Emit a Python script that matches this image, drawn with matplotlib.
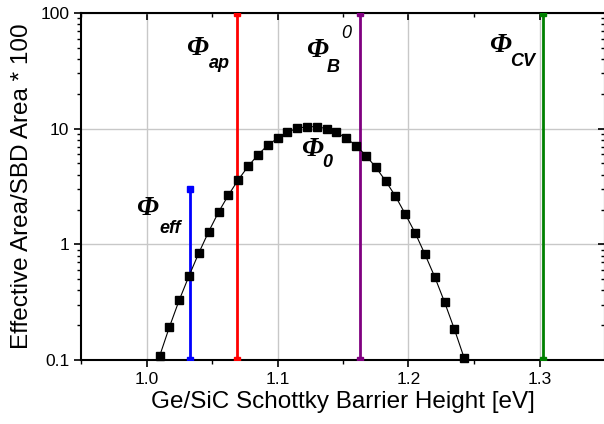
import matplotlib
matplotlib.use("Agg")
import matplotlib.pyplot as plt
from matplotlib.ticker import LogLocator, FixedLocator, NullFormatter, FuncFormatter

plt.rcParams['font.family'] = ['Liberation Sans', 'DejaVu Sans']

# Data
barrier_ev = [1.0100, 1.0175, 1.0250, 1.0325, 1.0400, 1.0475, 1.0550, 1.0625,
              1.0700, 1.0775, 1.0850, 1.0925, 1.1000, 1.1075, 1.1150, 1.1225,
              1.1300, 1.1375, 1.1450, 1.1525, 1.1600, 1.1675, 1.1750, 1.1825,
              1.1900, 1.1975, 1.2050, 1.2125, 1.2200, 1.2275, 1.2350, 1.2425]
eff_area = [0.108, 0.193, 0.330, 0.535, 0.845, 1.29, 1.90, 2.66,
            3.61, 4.71, 5.93, 7.19, 8.26, 9.31, 10.08, 10.4,
            10.4, 10.0, 9.31, 8.26, 7.14, 5.86, 4.64, 3.54,
            2.61, 1.83, 1.26, 0.823, 0.524, 0.317, 0.185, 0.104]

line_names = ['eff', 'ap', 'B0', 'CV']
line_x = [1.0331, 1.0692, 1.1628, 1.3028]
line_top = [3.0, 100.0, 100.0, 100.0]
line_colors = ['#0000ff', '#ff0000', '#800080', '#008000']

fig = plt.figure(figsize=(6.04, 4.24), dpi=100)
ax = fig.add_axes([81/604, 1-360/424, (605-81)/604, (360-13)/424])

ax.set_yscale('log')
ax.set_xlim(0.95, 1.35)
ax.set_ylim(0.1, 100)

ax.grid(True, which='major', color='#c8c8c8', lw=1.0, zorder=0)
ax.set_axisbelow(True)

for x, top, c in zip(line_x, line_top, line_colors):
    ax.plot([x, x], [0.1, top], color=c, lw=2.0, marker='s', ms=5,
            zorder=3, clip_on=True)

ax.plot(barrier_ev, eff_area, color='black', lw=0.8, marker='s', ms=5.5,
        zorder=4, clip_on=False)

ax.xaxis.set_major_locator(FixedLocator([1.0, 1.1, 1.2, 1.3]))
ax.xaxis.set_minor_locator(FixedLocator([0.95, 1.05, 1.15, 1.25, 1.35]))
ax.xaxis.set_major_formatter(FuncFormatter(lambda v, p: f"{v:.1f}"))
ax.yaxis.set_major_locator(FixedLocator([0.1, 1, 10, 100]))
ax.yaxis.set_major_formatter(FuncFormatter(lambda v, p: f"{v:g}"))
ax.yaxis.set_minor_locator(LogLocator(base=10, subs=range(2, 10)))
ax.yaxis.set_minor_formatter(NullFormatter())

ax.tick_params(axis='both', which='major', labelsize=12.5, length=5, width=1.2)
ax.tick_params(axis='both', which='minor', length=3, width=1.0)
ax.tick_params(axis='x', which='both', direction='out', top=True)
ax.tick_params(axis='y', which='both', direction='out', right=True)
for t in ax.xaxis.get_ticklines(minor=False)[1::2] + ax.xaxis.get_ticklines(minor=True)[1::2]:
    t.set_marker(3)  # top ticks inward
for t in ax.yaxis.get_ticklines(minor=False)[1::2] + ax.yaxis.get_ticklines(minor=True)[1::2]:
    t.set_marker(0)  # right ticks inward

for s in ax.spines.values():
    s.set_linewidth(1.5)

ax.set_xlabel('Ge/SiC Schottky Barrier Height [eV]', fontsize=17.5, labelpad=3)
ax.set_ylabel('Effective Area/SBD Area * 100', fontsize=17.5, labelpad=5)

phi_kw = dict(family='Liberation Serif', weight='bold', style='italic', fontsize=20,
              ha='center', va='center', zorder=5)
sub_kw = dict(family='Liberation Sans', weight='bold', style='italic', fontsize=13,
              ha='left', va='center', zorder=5)

ax.text(1.0004, 2.05, 'Φ', **phi_kw)
ax.text(1.0099, 1.38, 'eff', **sub_kw)
ax.text(1.0384, 49.4, 'Φ', **phi_kw)
ax.text(1.0473, 36.7, 'ap', **sub_kw)
ax.text(1.1298, 47.8, 'Φ', **phi_kw)
ax.text(1.1379, 33.9, 'B', **sub_kw)
ax.text(1.1489, 66.7, '0', **dict(sub_kw, weight='normal'))
ax.text(1.2702, 52.0, 'Φ', **phi_kw)
ax.text(1.2779, 37.8, 'CV', **sub_kw)
ax.text(1.1267, 6.64, 'Φ', **phi_kw)
ax.text(1.1341, 5.08, '0', **sub_kw)

fig.savefig('out.png', dpi=100)
